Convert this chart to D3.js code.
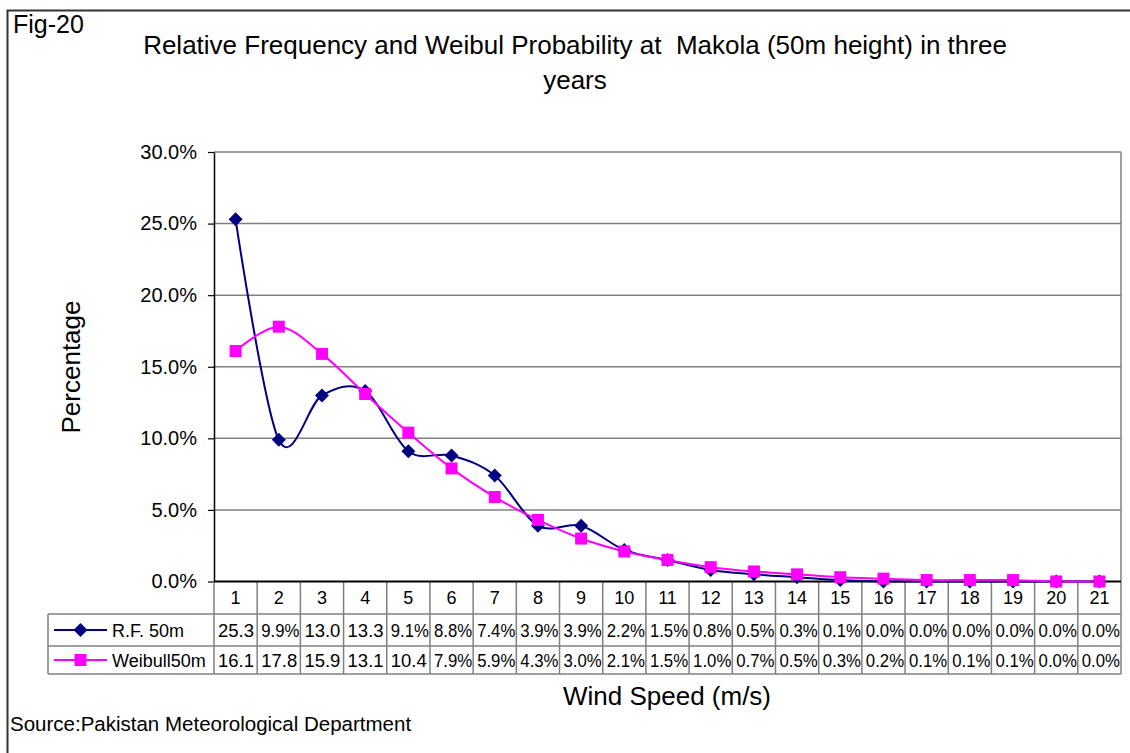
<!DOCTYPE html>
<html>
<head>
<meta charset="utf-8">
<script src="https://cdnjs.cloudflare.com/ajax/libs/d3/7.8.5/d3.min.js"></script>
<style>
	body { margin: 0; background: #fff; }
	svg text { font-family: "Liberation Sans", Arial, sans-serif; fill: #000; }
</style>
</head>
<body>
<script>
'use strict'
const speeds = [1, 2, 3, 4, 5, 6, 7, 8, 9, 10, 11, 12, 13, 14, 15, 16, 17, 18, 19, 20, 21];
const rf50 = [25.3, 9.9, 13.0, 13.3, 9.1, 8.8, 7.4, 3.9, 3.9, 2.2, 1.5, 0.8, 0.5, 0.3, 0.1, 0.0, 0.0, 0.0, 0.0, 0.0, 0.0];
const weibull50 = [16.1, 17.8, 15.9, 13.1, 10.4, 7.9, 5.9, 4.3, 3.0, 2.1, 1.5, 1.0, 0.7, 0.5, 0.3, 0.2, 0.1, 0.1, 0.1, 0.0, 0.0];
const seriesNames = ["R.F. 50m", "Weibull50m"];
const yTicks = [0, 5, 10, 15, 20, 25, 30];

const w = 1130;
const h = 753;
const plotLeft = 214, plotRight = 1121, plotTop = 152, plotBottom = 581.5;
const rowY = [581.5, 614, 646, 674];
const legendLeft = 48;
const gridColor = "#808080";

const series = [
	{ name: seriesNames[0], values: rf50, color: "#000080", marker: "diamond" },
	{ name: seriesNames[1], values: weibull50, color: "#ff00ff", marker: "square" }
];

const svg = d3.select("body")
	.append("svg")
	.attr("width", w)
	.attr("height", h);

// outer frame (left and top edges visible)
svg.append("path")
	.attr("d", "M7.5," + h + " V10.5 H" + w)
	.attr("fill", "none")
	.attr("stroke", "#333")
	.attr("stroke-width", 2);

const xScale = d3.scaleBand()
	.domain(speeds)
	.range([plotLeft, plotRight]);
const bw = xScale.bandwidth();

const yScale = d3.scaleLinear()
	.domain([0, 30])
	.range([plotBottom, plotTop]);

// gridlines
svg.append("g")
	.selectAll("line")
	.data(yTicks.slice(1))
	.enter()
	.append("line")
	.attr("x1", plotLeft)
	.attr("x2", plotRight)
	.attr("y1", (d) => yScale(d))
	.attr("y2", (d) => yScale(d))
	.attr("stroke", gridColor)
	.attr("stroke-width", 1.5);

// right edge of plot area
svg.append("line")
	.attr("x1", plotRight).attr("x2", plotRight)
	.attr("y1", plotTop).attr("y2", plotBottom)
	.attr("stroke", gridColor)
	.attr("stroke-width", 1.5);

// y axis
const yAxis = d3.axisLeft(yScale)
	.tickValues(yTicks)
	.tickFormat((d) => d.toFixed(1) + "%")
	.tickSize(6)
	.tickSizeOuter(0)
	.tickPadding(11);

const yG = svg.append("g")
	.attr("transform", "translate(" + plotLeft + ",0)")
	.call(yAxis);
yG.select(".domain").attr("stroke", "#000").attr("stroke-width", 1.5);
yG.selectAll(".tick line").attr("stroke", "#000").attr("stroke-width", 1.2);
yG.selectAll(".tick text").style("font-size", "20px").attr("font-family", null);

// data table
const table = svg.append("g").attr("stroke", gridColor).attr("stroke-width", 1.5);
table.selectAll("line.v")
	.data(speeds.concat(["end"]))
	.enter()
	.append("line")
	.attr("class", "v")
	.attr("x1", (d) => d === "end" ? plotRight : xScale(d))
	.attr("x2", (d) => d === "end" ? plotRight : xScale(d))
	.attr("y1", plotBottom)
	.attr("y2", rowY[3]);
table.selectAll("line.h")
	.data([rowY[1], rowY[2], rowY[3]])
	.enter()
	.append("line")
	.attr("class", "h")
	.attr("x1", legendLeft)
	.attr("x2", plotRight)
	.attr("y1", (d) => d)
	.attr("y2", (d) => d);
table.append("line")
	.attr("x1", legendLeft).attr("x2", legendLeft)
	.attr("y1", rowY[1]).attr("y2", rowY[3]);

// x axis line
svg.append("line")
	.attr("x1", plotLeft).attr("x2", plotRight)
	.attr("y1", plotBottom).attr("y2", plotBottom)
	.attr("stroke", "#000")
	.attr("stroke-width", 2);

// header row: wind speed categories
svg.append("g")
	.selectAll("text")
	.data(speeds)
	.enter()
	.append("text")
	.attr("x", (d) => xScale(d) + bw / 2)
	.attr("y", 604)
	.attr("text-anchor", "middle")
	.style("font-size", "18px")
	.text((d) => d);

function drawMarker(g, s, cx, cy) {
	if (s.marker === "diamond") {
		g.append("path")
			.attr("d", "M0,-7L7,0L0,7L-7,0Z")
			.attr("transform", "translate(" + cx + "," + cy + ")")
			.attr("fill", s.color);
	} else {
		g.append("rect")
			.attr("x", cx - 6).attr("y", cy - 6)
			.attr("width", 12).attr("height", 12)
			.attr("fill", s.color);
	}
}

// value rows: like Excel, the "%" drops out when the number is too wide for the cell
const avail = bw - 5;
series.forEach((s, r) => {
	const y0 = rowY[r + 1], y1 = rowY[r + 2];
	const mid = (y0 + y1) / 2;
	speeds.forEach((sp, i) => {
		const t = svg.append("text")
			.attr("x", xScale(sp) + 4)
			.attr("y", mid + 7)
			.style("font-size", "18.5px")
			.text(s.values[i].toFixed(1) + "%");
		let len = t.node().getComputedTextLength();
		if (len > avail * 1.15) {
			t.text(s.values[i].toFixed(1));
			len = t.node().getComputedTextLength();
		}
		if (len > avail) {
			t.attr("textLength", avail).attr("lengthAdjust", "spacingAndGlyphs");
		}
	});

	// legend key in the table
	svg.append("line")
		.attr("x1", 54).attr("x2", 107)
		.attr("y1", mid).attr("y2", mid)
		.attr("stroke", s.color)
		.attr("stroke-width", 2);
	drawMarker(svg, s, 80.5, mid);
	svg.append("text")
		.attr("x", 112)
		.attr("y", mid + 7)
		.style("font-size", "18px")
		.text(s.name);
});

// smoothed lines and markers
const line = d3.line()
	.x((d, i) => xScale(speeds[i]) + bw / 2)
	.y((d) => yScale(d))
	.curve(d3.curveCatmullRom.alpha(0));

series.forEach((s) => {
	svg.append("path")
		.datum(s.values)
		.attr("d", line)
		.attr("fill", "none")
		.attr("stroke", s.color)
		.attr("stroke-width", 2);
});
series.forEach((s) => {
	s.values.forEach((v, i) => {
		drawMarker(svg, s, xScale(speeds[i]) + bw / 2, yScale(v));
	});
});

// titles
svg.append("text")
	.attr("x", 13)
	.attr("y", 33)
	.style("font-size", "25px")
	.text("Fig-20");

svg.append("text")
	.attr("x", 575)
	.attr("y", 54)
	.attr("text-anchor", "middle")
	.attr("xml:space", "preserve")
	.style("font-size", "26px")
	.text("Relative Frequency and Weibul Probability at  Makola (50m height) in three");

svg.append("text")
	.attr("x", 575)
	.attr("y", 89)
	.attr("text-anchor", "middle")
	.style("font-size", "26px")
	.text("years");

svg.append("text")
	.attr("transform", "rotate(-90)")
	.attr("x", -367)
	.attr("y", 80)
	.attr("text-anchor", "middle")
	.style("font-size", "26px")
	.text("Percentage");

svg.append("text")
	.attr("x", 667)
	.attr("y", 705)
	.attr("text-anchor", "middle")
	.style("font-size", "26px")
	.text("Wind Speed (m/s)");

svg.append("text")
	.attr("x", 10)
	.attr("y", 731)
	.style("font-size", "20.5px")
	.text("Source:Pakistan Meteorological Department");
</script>
</body>
</html>
